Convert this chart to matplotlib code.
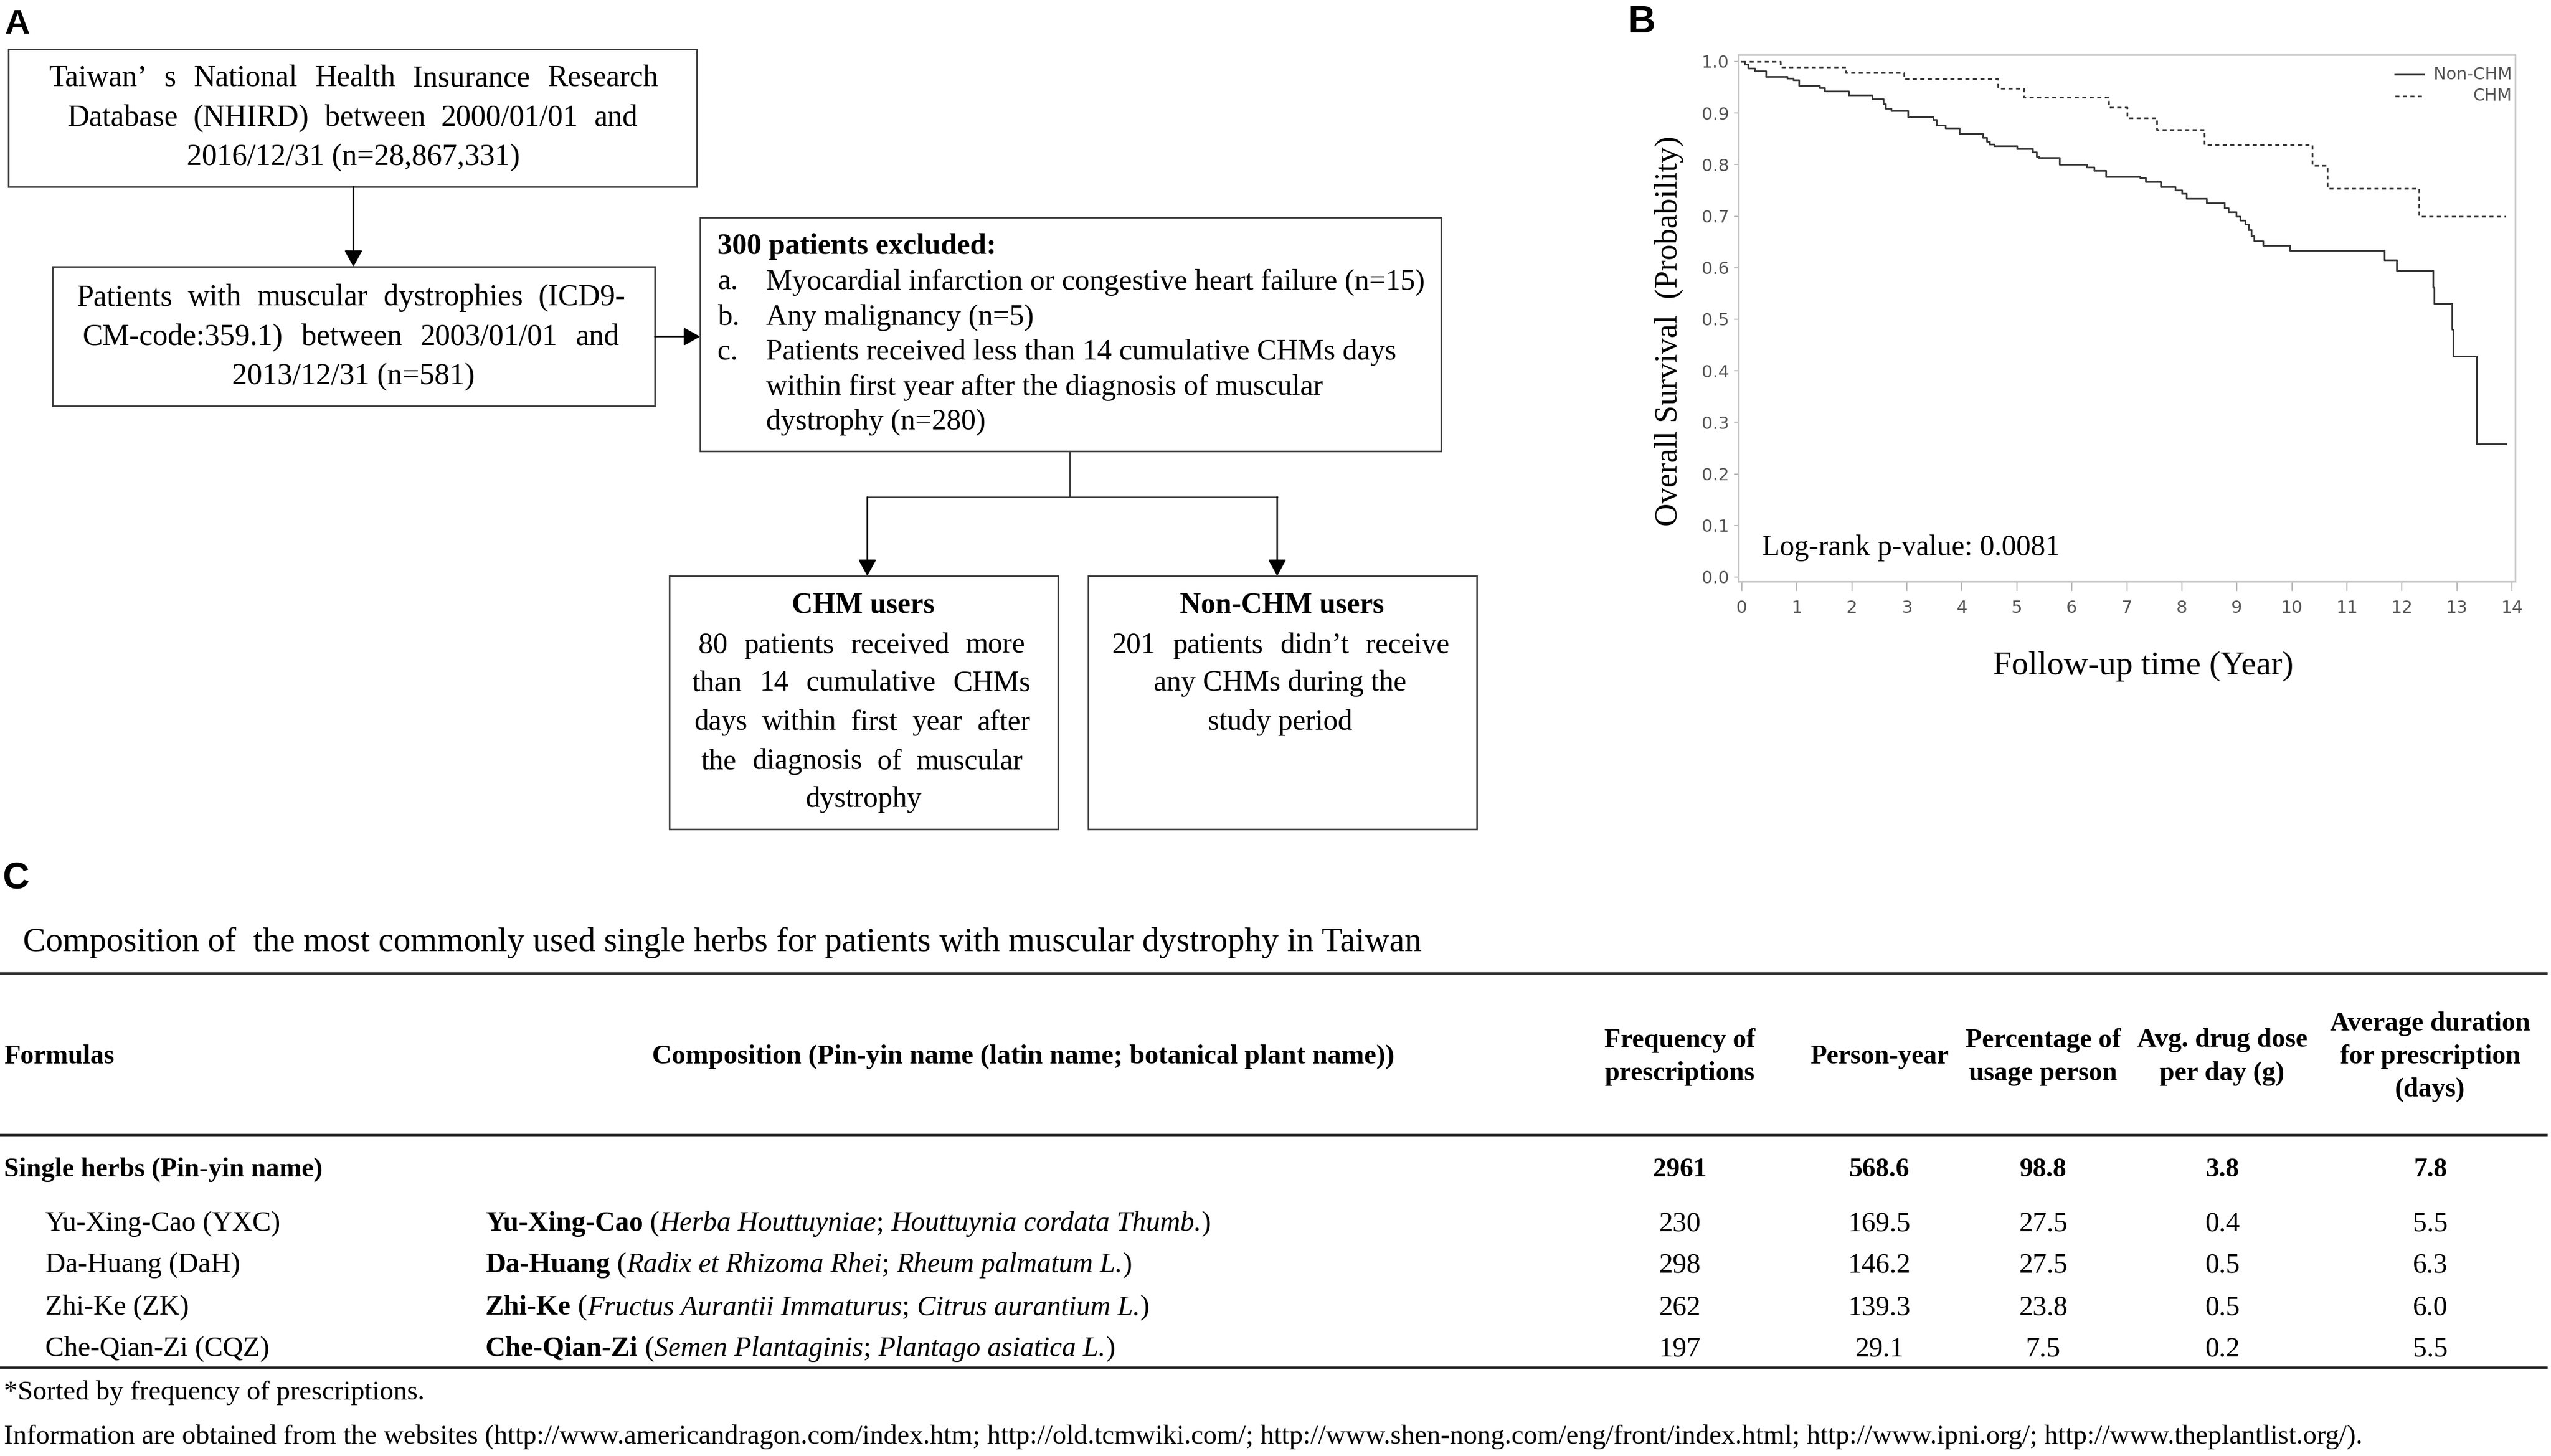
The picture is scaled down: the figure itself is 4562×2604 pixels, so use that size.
import matplotlib
matplotlib.use("Agg")
import matplotlib.pyplot as plt
from matplotlib.patches import Rectangle

W, H = 4562, 2604
DPI = 100

# panel B: Kaplan-Meier curves (years, survival probability)
non_chm_time = [0, 0.05, 0.11, 0.23, 0.44, 0.82, 0.94, 1.04, 1.41, 1.50, 1.94, 2.37,
                2.57, 2.61, 2.71, 3.02, 3.48, 3.54, 3.70, 3.95, 4.38, 4.45, 4.50, 4.59,
                5.00, 5.29, 5.36, 5.40, 5.77, 6.27, 6.40, 6.62, 7.24, 7.34, 7.61, 7.88,
                8.00, 8.08, 8.45, 8.77, 8.84, 8.99, 9.06, 9.15, 9.21, 9.26, 9.31, 9.47,
                9.96, 11.68, 11.90, 12.57, 12.59, 12.91, 12.93, 13.36, 13.89]
non_chm_surv = [1.0, 0.995, 0.987, 0.982, 0.971, 0.967, 0.964, 0.953, 0.949, 0.942, 0.935, 0.927,
                0.918, 0.909, 0.904, 0.893, 0.887, 0.876, 0.871, 0.860, 0.853, 0.845, 0.840, 0.836,
                0.831, 0.824, 0.816, 0.813, 0.800, 0.795, 0.789, 0.777, 0.774, 0.767, 0.757, 0.751,
                0.744, 0.734, 0.726, 0.716, 0.708, 0.700, 0.692, 0.684, 0.673, 0.662, 0.652, 0.643,
                0.633, 0.615, 0.594, 0.562, 0.530, 0.481, 0.428, 0.258, 0.258]
chm_time = [0, 0.70, 1.89, 2.95, 4.66, 5.12, 6.67, 7.00, 7.54, 8.41, 10.37, 10.64, 12.31, 13.89]
chm_surv = [1.0, 0.989, 0.978, 0.966, 0.948, 0.931, 0.911, 0.890, 0.868, 0.838, 0.798, 0.754, 0.700, 0.700]
km_xticks = list(range(0, 15))
km_yticks = [0.0, 0.1, 0.2, 0.3, 0.4, 0.5, 0.6, 0.7, 0.8, 0.9, 1.0]
km_labels = ["Non-CHM", "CHM"]
log_rank = "Log-rank p-value: 0.0081"

# panel C: table
herb_names = ["Yu-Xing-Cao (YXC)", "Da-Huang (DaH)", "Zhi-Ke (ZK)", "Che-Qian-Zi (CQZ)"]
herb_pinyin = ["Yu-Xing-Cao", "Da-Huang", "Zhi-Ke", "Che-Qian-Zi"]
herb_latin = ["Herba Houttuyniae", "Radix et Rhizoma Rhei", "Fructus Aurantii Immaturus", "Semen Plantaginis"]
herb_botanical = ["Houttuynia cordata Thumb.", "Rheum palmatum L.", "Citrus aurantium L.", "Plantago asiatica L."]
freq = [230, 298, 262, 197]
person_year = [169.5, 146.2, 139.3, 29.1]
pct_users = [27.5, 27.5, 23.8, 7.5]
dose = [0.4, 0.5, 0.5, 0.2]
duration = [5.5, 6.3, 6.0, 5.5]
totals = ["2961", "568.6", "98.8", "3.8", "7.8"]
num_headers = ["Frequency of\nprescriptions", "Person-year", "Percentage of\nusage person",
               "Avg. drug dose\nper day (g)", "Average duration\nfor prescription\n(days)"]

SERIF = "Liberation Serif"
SANS = "DejaVu Sans"
LINE = "#3c3c3c"


def pt(pixels):
    return pixels * 72 / DPI


fig = plt.figure(figsize=(W / DPI, H / DPI), dpi=DPI)
ax = fig.add_axes([0, 0, 1, 1])
ax.set_xlim(0, W)
ax.set_ylim(H, 0)
ax.axis("off")
ax.set_zorder(5)
ax.patch.set_visible(False)
renderer = fig.canvas.get_renderer()


def text_width(s, **kw):
    t = ax.text(0, 0, s + "|", **kw)
    w = t.get_window_extent(renderer).width
    t.set_text("|")
    w -= t.get_window_extent(renderer).width
    t.remove()
    return w


def justify(x0, x1, y, line, **kw):
    words = line.split()
    widths = [text_width(w, **kw) for w in words]
    gap = (x1 - x0 - sum(widths)) / max(len(words) - 1, 1)
    x = x0
    for word, w in zip(words, widths):
        ax.text(x, y, word, ha="left", va="center", **kw)
        x += w + gap


def rich(x, y, parts, size):
    for s, weight, style in parts:
        kw = dict(family=SERIF, fontsize=size, weight=weight, style=style)
        ax.text(x, y, s, ha="left", va="center", **kw)
        x += text_width(s, **kw)


def box(x0, y0, x1, y1):
    ax.add_patch(Rectangle((x0, y0), x1 - x0, y1 - y0, fill=False, lw=2, ec=LINE))


def arrow(x0, y0, x1, y1):
    ax.annotate("", xy=(x1, y1), xytext=(x0, y0),
                arrowprops=dict(arrowstyle="-|>,head_length=0.45,head_width=0.25",
                                lw=2, color="k", mutation_scale=40, shrinkA=0, shrinkB=0))


# ---------------- panel A: flow chart ----------------
ax.text(8, 60, "A", family="Liberation Sans", weight="bold", fontsize=pt(62), va="baseline")
fa = dict(family=SERIF, fontsize=pt(54))
box(15, 88, 1246, 334)
justify(87, 1177, 141, "Taiwan\u2019 s National Health Insurance Research", **fa)
justify(120, 1140, 212, "Database (NHIRD) between 2000/01/01 and", **fa)
ax.text(632, 282, "2016/12/31 (n=28,867,331)", ha="center", va="center", **fa)
arrow(632, 334, 632, 477)

box(94, 477, 1171, 726)
justify(137, 1119, 533, "Patients with muscular dystrophies (ICD9-", **fa)
justify(148, 1107, 604, "CM-code:359.1) between 2003/01/01 and", **fa)
ax.text(632, 674, "2013/12/31 (n=581)", ha="center", va="center", **fa)
arrow(1171, 602, 1252, 602)

fb = dict(family=SERIF, fontsize=pt(52.5))
box(1252, 389, 2577, 807)
ax.text(1283, 441, "300 patients excluded:", ha="left", va="center", weight="bold", **fb)
excl = [("a.", ["Myocardial infarction or congestive heart failure (n=15)"]),
        ("b.", ["Any malignancy (n=5)"]),
        ("c.", ["Patients received less than 14 cumulative CHMs days",
                "within first year after the diagnosis of muscular",
                "dystrophy (n=280)"])]
yy = 505
for tag, lines in excl:
    ax.text(1283, yy, tag, ha="left", va="center", **fb)
    for ln in lines:
        ax.text(1370, yy, ln, ha="left", va="center", **fb)
        yy += 62.5

ax.plot([1913, 1913], [807, 889], color=LINE, lw=2)
ax.plot([1551, 2284], [889, 889], color=LINE, lw=2)
arrow(1551, 889, 1551, 1030)
arrow(2284, 889, 2284, 1030)

fc = dict(family=SERIF, fontsize=pt(52))
box(1197, 1030, 1892, 1483)
ax.text(1544, 1083, "CHM users", ha="center", va="center", weight="bold", **fc)
justify(1249, 1834, 1155, "80 patients received more", **fc)
justify(1237, 1844, 1222, "than 14 cumulative CHMs", **fc)
justify(1241, 1842, 1292, "days within first year after", **fc)
justify(1254, 1830, 1362, "the diagnosis of muscular", **fc)
ax.text(1544, 1430, "dystrophy", ha="center", va="center", **fc)

box(1946, 1030, 2641, 1483)
ax.text(2293, 1083, "Non-CHM users", ha="center", va="center", weight="bold", **fc)
justify(1989, 2592, 1155, "201 patients didn\u2019t receive", **fc)
ax.text(2289, 1222, "any CHMs during the", ha="center", va="center", **fc)
ax.text(2289, 1292, "study period", ha="center", va="center", **fc)

# ---------------- panel B: Kaplan-Meier ----------------
ax.text(2911, 58, "B", family="Liberation Sans", weight="bold", fontsize=pt(68), va="baseline")
axk = fig.add_axes([3109 / W, 1 - 1040 / H, 1389 / W, 942 / H])
axk.step(non_chm_time, non_chm_surv, where="post", color="#3a3a3a", lw=2.2)
axk.step(chm_time, chm_surv, where="post", color="#3a3a3a", lw=2.2, linestyle=(0, (2.4, 2.0)))
axk.set_xlim(-0.061, 14.06)
axk.set_ylim(-0.0087, 1.013)
axk.set_xticks(km_xticks)
axk.set_yticks(km_yticks)
axk.set_yticklabels([f"{v:.1f}" for v in km_yticks])
for s in axk.spines.values():
    s.set_color("#c4c4c4")
    s.set_linewidth(2)
axk.tick_params(axis="x", length=12, width=1.6, color="#b8b8b8", labelsize=pt(31),
                labelcolor="#555555", pad=12)
axk.tick_params(axis="y", length=6, width=1.6, color="#b8b8b8", labelsize=pt(31),
                labelcolor="#555555", pad=6)
for lab in axk.get_xticklabels() + axk.get_yticklabels():
    lab.set_family(SANS)
axk.text(0.03, 0.064, log_rank, transform=axk.transAxes, family=SERIF,
         fontsize=pt(52), va="center", ha="left")

# legend drawn by hand so the labels can be right aligned
ax.plot([4283, 4334], [133, 133], color="#3a3a3a", lw=2.2)
ax.plot([4283, 4334], [172, 172], color="#3a3a3a", lw=2.2, linestyle=(0, (2.4, 2.0)))
for lab, y in zip(km_labels, [133, 172]):
    ax.text(4492, y, lab, ha="right", va="center", family=SANS, fontsize=pt(30), color="#555555")

ax.text(2985, 592, "Overall Survival  (Probability)", rotation=90, ha="center", va="center",
        family=SERIF, fontsize=pt(57))
ax.text(3833, 1192, "Follow-up time (Year)", ha="center", va="center", family=SERIF, fontsize=pt(60))

# ---------------- panel C: table ----------------
ax.text(4, 1589, "C", family="Liberation Sans", weight="bold", fontsize=pt(66), va="baseline")
ft = dict(family=SERIF, fontsize=pt(61))
ax.text(41, 1686, "Composition of  the most commonly used single herbs for patients with "
        "muscular dystrophy in Taiwan", ha="left", va="center", **ft)

for y in [1741, 2030, 2446]:
    ax.plot([0, 4556], [y, y], color="#2a2a2a", lw=3.2, solid_capstyle="butt")

fh = dict(family=SERIF, fontsize=pt(48), weight="bold")
ax.text(7, 1890, "Formulas", ha="left", va="center", **fh)
ax.text(1830, 1890, "Composition (Pin-yin name (latin name; botanical plant name))",
        ha="center", va="center", family=SERIF, fontsize=pt(49), weight="bold")
col_x = [3004, 3361, 3654, 3974, 4346]
for cx, head in zip(col_x, num_headers):
    lines = head.split("\n")
    for i, ln in enumerate(lines):
        ax.text(cx, 1890 + (i - (len(lines) - 1) / 2) * 59, ln, ha="center", va="center", **fh)

ax.text(7, 2092, "Single herbs (Pin-yin name)", ha="left", va="center", **fh)
for cx, v in zip(col_x, totals):
    ax.text(cx, 2092, v, ha="center", va="center", **fh)

fr = pt(50)
row_y = [2189, 2263, 2339, 2413]
for i, y in enumerate(row_y):
    ax.text(81, y, herb_names[i], ha="left", va="center", family=SERIF, fontsize=fr)
    rich(868, y, [(herb_pinyin[i], "bold", "normal"), (" (", "normal", "normal"),
                  (herb_latin[i], "normal", "italic"), ("; ", "normal", "normal"),
                  (herb_botanical[i], "normal", "italic"), (")", "normal", "normal")], fr)
    vals = [f"{freq[i]}", f"{person_year[i]:.1f}", f"{pct_users[i]:.1f}",
            f"{dose[i]:.1f}", f"{duration[i]:.1f}"]
    for cx, v in zip(col_x, vals):
        ax.text(cx, y, v, ha="center", va="center", family=SERIF, fontsize=fr)

fn = dict(family=SERIF, fontsize=pt(49))
ax.text(7, 2491, "*Sorted by frequency of prescriptions.", ha="left", va="center", **fn)
ax.text(7, 2570, "Information are obtained from the websites (http://www.americandragon.com/index.htm; "
        "http://old.tcmwiki.com/; http://www.shen-nong.com/eng/front/index.html; "
        "http://www.ipni.org/; http://www.theplantlist.org/).", ha="left", va="center", **fn)

fig.savefig("out.png", dpi=DPI, facecolor="white")
